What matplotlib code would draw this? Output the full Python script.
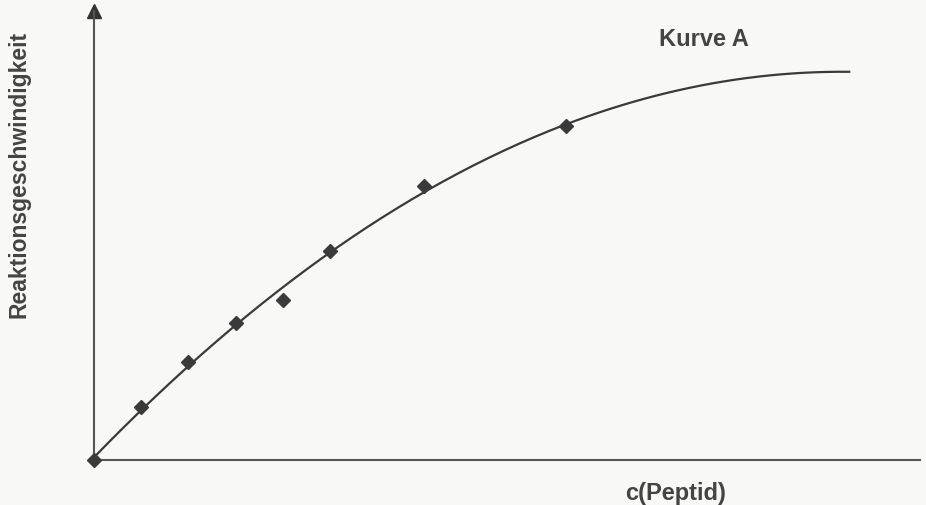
import matplotlib
matplotlib.use("Agg")
import matplotlib.pyplot as plt
import numpy as np

# measured points (c(Peptid) in arbitrary units, rate in arbitrary units)
conc = [0, 1, 2, 3, 4, 5, 7, 10]
rate = [0, 5.3, 9.8, 13.7, 16.0, 20.9, 27.4, 33.4]
curve_end = 16

plt.rcParams['font.family'] = ['Liberation Sans', 'DejaVu Sans']
ink = '#3a3a3a'

fig = plt.figure(figsize=(9.26, 5.06), dpi=100, facecolor='#f8f8f6')
ax = fig.add_axes([94 / 926, 45 / 506, 826 / 926, 449 / 506])
ax.set_facecolor('#f8f8f6')

# trend line (quadratic fit of the measured points)
coef = np.polyfit(conc, rate, 2)
xs = np.linspace(0, curve_end, 200)
ax.plot(xs, np.polyval(coef, xs), color=ink, lw=1.6, zorder=2, clip_on=False)
ax.plot(conc, rate, 'D', color=ink, ms=7, zorder=3, clip_on=False)

ax.set_xlim(0, 826 / 47.2)
ax.set_ylim(0, 44.9)
for s in ['top', 'right']:
    ax.spines[s].set_visible(False)
for s in ['left', 'bottom']:
    ax.spines[s].set_color('#555555')
    ax.spines[s].set_linewidth(1.5)
ax.set_xticks([])
ax.set_yticks([])

# arrow head at the top of the y axis
ax.plot(0, 1, '^', color='#333333', ms=10, transform=ax.transAxes, clip_on=False)

fig.text(704 / 926, 1 - 40 / 506, 'Kurve A', ha='center', va='center',
         fontsize=17, fontweight='bold', color='#444444')
fig.text(676 / 926, 1 - 494 / 506, 'c(Peptid)', ha='center', va='center',
         fontsize=17, fontweight='bold', color='#444444')
fig.text(19 / 926, 1 - 174 / 506, 'Reaktionsgeschwindigkeit', ha='center', va='center',
         rotation=90, fontsize=16.5, fontweight='bold', color='#444444')

fig.savefig('out.png', dpi=100, facecolor=fig.get_facecolor())
